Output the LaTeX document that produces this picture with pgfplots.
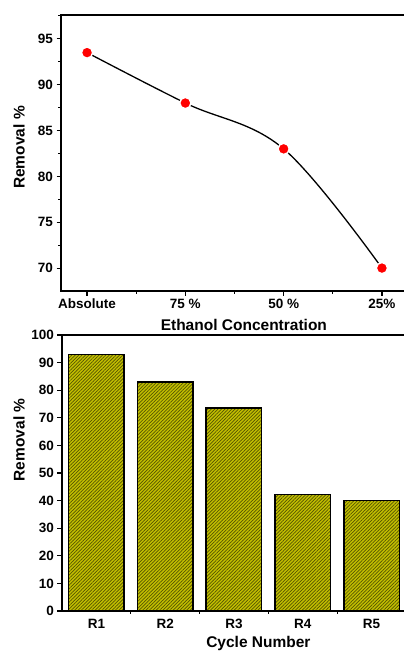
\documentclass[border=0pt]{standalone}
\usepackage{pgfplots}
\pgfplotsset{compat=1.18}
\usepackage{fontspec}
\setmainfont{Liberation Sans}
\usetikzlibrary{patterns.meta}

\definecolor{barfill}{HTML}{C2BE00}
\definecolor{barline}{HTML}{545400}

\pgfplotsset{
  common/.style={
    scale only axis,
    axis line style={line width=1.6pt},
    tick align=outside,
    tick pos=left,
    major tick length=4.5pt,
    minor tick length=2.6pt,
    every tick/.style={black, line width=1.1pt},
    /pgf/number format/assume math mode=true,
    ticklabel style={font=\fontsize{13.5}{14}\selectfont\bfseries},
    label style={font=\fontsize{15.5}{16}\selectfont\bfseries},
  },
}

\begin{document}
\begin{tikzpicture}
\begin{scope}
\clip (0pt,0pt) rectangle (404pt,-651pt);

% Removal versus ethanol concentration
\begin{axis}[common,
  at={(61pt,-15pt)}, anchor=north west,
  width=347pt, height=276pt,
  xmin=-0.265, xmax=3.265,
  ymin=67.5, ymax=97.6,
  xtick={0,1,2,3},
  xticklabels={Absolute,75 \%,50 \%,25\%},
  minor xtick={0.5,1.5,2.5},
  ytick={70,75,80,85,90,95},
  minor ytick={72.5,77.5,82.5,87.5,92.5,97.5},
  xlabel={Ethanol Concentration},
  ylabel={Removal \%},
  xlabel style={at={(axis description cs:0.527,0)}, anchor=center, yshift=-34pt},
  ylabel style={at={(axis description cs:-0.121,0.52)}, anchor=center},
]
\addplot[black, line width=1.3pt, smooth, tension=0.6,
  mark=*, mark size=5.6pt,
  mark options={fill=red, draw=white, line width=1.4pt}]
  coordinates {(0,93.5) (1,88) (2,83) (3,70)};
\end{axis}

% Removal over successive cycles
\begin{axis}[common,
  at={(62pt,-335pt)}, anchor=north west,
  width=344pt, height=276pt,
  xmin=0.5, xmax=5.5,
  ymin=0, ymax=100,
  ytick={0,10,...,100},
  xtick={1,2,3,4,5},
  xticklabels={R1,R2,R3,R4,R5},
  major x tick style={draw=none},
  minor xtick={1.5,2.5,3.5,4.5},
  xlabel={Cycle Number},
  ylabel={Removal \%},
  xlabel style={at={(axis description cs:0.571,0)}, anchor=center, yshift=-32pt},
  ylabel style={at={(axis description cs:-0.125,0.62)}, anchor=center},
  axis on top,
]
\addplot[ybar, bar width=55.5pt, draw=black, line width=1.5pt,
  fill=barfill,
  postaction={pattern={Lines[angle=45, distance=2.4pt, line width=0.7pt]},
              pattern color=barline, draw=black, line width=1.5pt}]
  coordinates {(1,92.9) (2,83) (3,73.6) (4,42.2) (5,40)};
\end{axis}
\end{scope}
\pgfresetboundingbox
\path[use as bounding box] (0pt,0pt) rectangle (404pt,-651pt);
\end{tikzpicture}
\end{document}
